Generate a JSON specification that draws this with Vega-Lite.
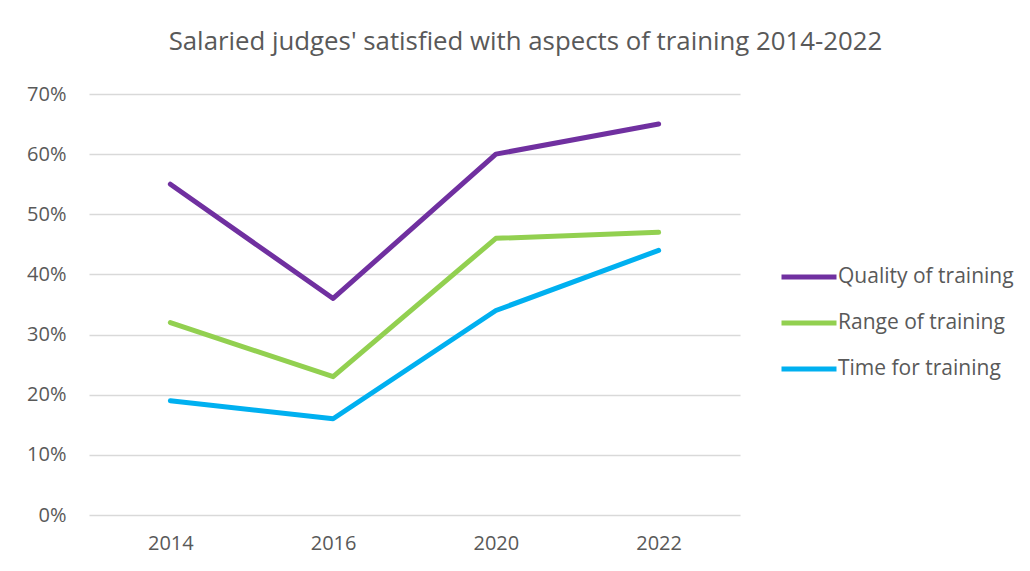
{
  "$schema": "https://vega.github.io/schema/vega-lite/v6.json",
  "autosize": {"type": "none"},
  "width": 651,
  "height": 421,
  "padding": {"left": 89, "top": 94, "right": 290, "bottom": 56},
  "background": "white",
  "title": {
    "text": "Salaried judges' satisfied with aspects of training 2014-2022",
    "anchor": "middle",
    "dx": 111,
    "offset": 28,
    "fontSize": 25.8,
    "font": "Open Sans",
    "fontWeight": "normal",
    "color": "#595959"
  },
  "data": {
    "values": [
      {"year": "2014", "series": "Quality of training", "value": 0.55},
      {"year": "2016", "series": "Quality of training", "value": 0.36},
      {"year": "2020", "series": "Quality of training", "value": 0.60},
      {"year": "2022", "series": "Quality of training", "value": 0.65},
      {"year": "2014", "series": "Range of training", "value": 0.32},
      {"year": "2016", "series": "Range of training", "value": 0.23},
      {"year": "2020", "series": "Range of training", "value": 0.46},
      {"year": "2022", "series": "Range of training", "value": 0.47},
      {"year": "2014", "series": "Time for training", "value": 0.19},
      {"year": "2016", "series": "Time for training", "value": 0.16},
      {"year": "2020", "series": "Time for training", "value": 0.34},
      {"year": "2022", "series": "Time for training", "value": 0.44}
    ]
  },
  "mark": {"type": "line", "strokeWidth": 5, "strokeCap": "round", "strokeJoin": "round"},
  "encoding": {
    "x": {
      "field": "year", "type": "ordinal",
      "scale": {"type": "point", "padding": 0.5},
      "axis": {"title": null, "labelAngle": 0, "domain": false, "ticks": false, "grid": false,
               "labelFontSize": 20, "labelFont": "Open Sans", "labelColor": "#595959", "labelPadding": 18}
    },
    "y": {
      "field": "value", "type": "quantitative",
      "scale": {"domain": [0, 0.7], "nice": false},
      "axis": {"title": null, "format": ".0%", "values": [0, 0.1, 0.2, 0.3, 0.4, 0.5, 0.6, 0.7],
               "domain": false, "ticks": false, "gridColor": "#d9d9d9", "gridWidth": 1.3,
               "labelFontSize": 20, "labelFont": "Open Sans", "labelColor": "#595959", "labelPadding": 23}
    },
    "color": {
      "field": "series", "type": "nominal",
      "scale": {"domain": ["Quality of training", "Range of training", "Time for training"],
                "range": ["#7030A0", "#92D050", "#00B0F0"]},
      "legend": {
        "title": null, "orient": "none", "legendX": 690, "legendY": 153,
        "symbolType": "stroke", "symbolSize": 3025, "symbolStrokeWidth": 5,
        "labelFontSize": 21, "labelFont": "Open Sans", "labelColor": "#595959",
        "labelOffset": -1, "labelLimit": 300, "rowPadding": 6
      }
    }
  },
  "config": {"view": {"stroke": null}}
}
